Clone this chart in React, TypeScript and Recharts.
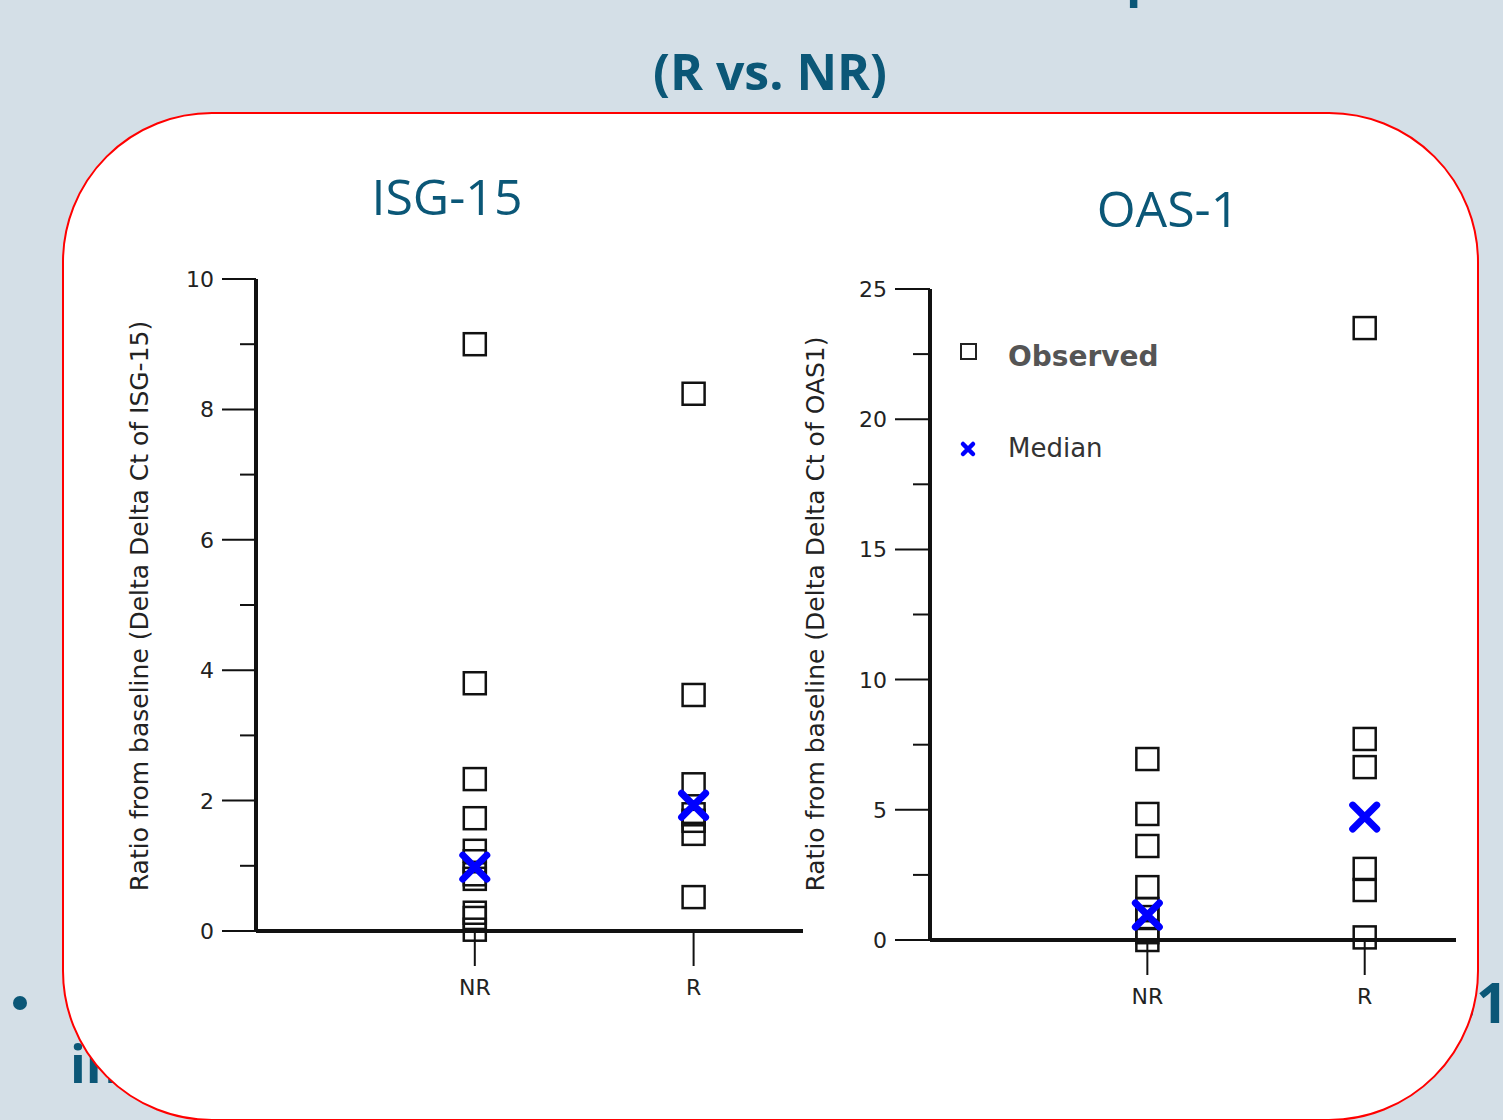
import React from 'react';
import { ScatterChart, Scatter, XAxis, YAxis } from 'recharts';

// groups on the x axis (numeric positions 1 and 2)
const groups = ['NR', 'R'];

// ISG-15 ratio from baseline
const isgNR = [9.0, 3.8, 2.33, 1.73, 1.23, 1.07, 0.87, 0.8, 0.28, 0.2, 0.02];
const isgR = [8.24, 3.62, 2.25, 1.79, 1.69, 1.49, 0.52];
const isgMedian = [0.98, 1.93];
const isgTicks = [0, 1, 2, 3, 4, 5, 6, 7, 8, 9, 10];

// OAS-1 ratio from baseline
const oasNR = [6.95, 4.84, 3.61, 2.03, 1.19, 0.88, 0.3, 0.0];
const oasR = [23.5, 7.72, 6.64, 2.73, 1.92, 0.1];
const oasMedian = [0.96, 4.72];
const oasTicks = [0, 2.5, 5, 7.5, 10, 12.5, 15, 17.5, 20, 22.5, 25];

const TEAL = '#0b5777';
const AXIS_FONT = '"DejaVu Sans", Verdana, sans-serif';
const SLIDE_FONT = '"Open Sans", sans-serif';

const toPoints = (vals: number[], x: number) => vals.map(v => ({ x, y: v }));
const medianPoints = (vals: number[]) => vals.map((v, i) => ({ x: i + 1, y: v }));

const SquareDot = (props: any) => {
  const { cx, cy } = props;
  if (cx == null || cy == null) return <g />;
  return <rect x={cx - 11} y={cy - 11} width={22} height={22} fill="none" stroke="#111" strokeWidth={2.5} />;
};

const CrossDot = (props: any) => {
  const { cx, cy } = props;
  if (cx == null || cy == null) return <g />;
  const s = 12;
  return (
    <path
      d={`M${cx - s},${cy - s}L${cx + s},${cy + s}M${cx + s},${cy - s}L${cx - s},${cy + s}`}
      stroke="#0000ff"
      strokeWidth={7}
      strokeLinecap="round"
    />
  );
};

const makeYTick = (step: number, majorLen: number, minorLen: number) => (props: any) => {
  const { x, y, payload } = props;
  const v = payload.value;
  const major = Math.abs(v / step - Math.round(v / step)) < 1e-6;
  const len = major ? majorLen : minorLen;
  return (
    <g>
      <line x1={x - len} x2={x} y1={y} y2={y} stroke="#111" strokeWidth={2} />
      {major && (
        <text x={x - majorLen - 8} y={y} dy="0.36em" textAnchor="end" fontSize={22} fill="#222" fontFamily={AXIS_FONT}>
          {v}
        </text>
      )}
    </g>
  );
};

const XTick = (props: any) => {
  const { x, y, payload } = props;
  return (
    <g>
      <line x1={x} x2={x} y1={y} y2={y + 35} stroke="#111" strokeWidth={2} />
      <text x={x} y={y + 64} textAnchor="middle" fontSize={22} fill="#222" fontFamily={AXIS_FONT}>
        {groups[payload.value - 1]}
      </text>
    </g>
  );
};

const axisLine = { stroke: '#111', strokeWidth: 4 };

const VerticalTitle = ({ cx, cy, text }: { cx: number; cy: number; text: string }) => (
  <text
    x={cx}
    y={cy}
    transform={`rotate(-90 ${cx} ${cy})`}
    textAnchor="middle"
    dominantBaseline="central"
    fontSize={25}
    fill="#222"
    fontFamily={AXIS_FONT}
  >
    {text}
  </text>
);

export default function App() {
  return (
    <div
      style={{
        position: 'absolute',
        left: 0,
        top: 0,
        width: 1503,
        height: 1120,
        overflow: 'hidden',
        background: '#d4dfe7',
      }}
    >
      {/* slide text behind the box */}
      <svg width={1503} height={1120} style={{ position: 'absolute', left: 0, top: 0 }}>
        <text x={1126} y={-4} fontSize={50} fontWeight="bold" fill={TEAL} fontFamily={SLIDE_FONT}>
          p
        </text>
        <text x={770} y={90} textAnchor="middle" fontSize={50} fontWeight="bold" fill={TEAL} fontFamily={SLIDE_FONT}>
          (R vs. NR)
        </text>
        <circle cx={20} cy={1003} r={7} fill={TEAL} />
        <text x={70} y={1083} fontSize={52} fontWeight="bold" fill={TEAL} fontFamily={SLIDE_FONT}>
          in
        </text>
        <text x={1444} y={1023} fontSize={56} fontWeight="bold" fill={TEAL} fontFamily={SLIDE_FONT}>
          51
        </text>
      </svg>

      <div
        style={{
          position: 'absolute',
          left: 62,
          top: 112,
          width: 1417,
          height: 1009,
          boxSizing: 'border-box',
          border: '2.5px solid #ff0000',
          borderRadius: 150,
          background: '#fff',
        }}
      />

      <div style={{ position: 'absolute', left: 100, top: 250 }}>
        <ScatterChart width={720} height={751} margin={{ top: 29, right: 17, left: 0, bottom: 0 }}>
          <XAxis
            type="number"
            dataKey="x"
            domain={[0, 2.5]}
            ticks={[1, 2]}
            tick={<XTick />}
            tickLine={false}
            tickSize={0}
            tickMargin={0}
            axisLine={axisLine}
            height={70}
          />
          <YAxis
            type="number"
            dataKey="y"
            domain={[0, 10]}
            ticks={isgTicks}
            interval={0}
            tick={makeYTick(2, 34, 16)}
            tickLine={false}
            tickSize={0}
            tickMargin={0}
            axisLine={axisLine}
            width={156}
          />
          <Scatter data={toPoints(isgNR, 1)} shape={SquareDot} isAnimationActive={false} />
          <Scatter data={toPoints(isgR, 2)} shape={SquareDot} isAnimationActive={false} />
          <Scatter data={medianPoints(isgMedian)} shape={CrossDot} isAnimationActive={false} />
        </ScatterChart>
      </div>

      <div style={{ position: 'absolute', left: 790, top: 260 }}>
        <ScatterChart width={676} height={750} margin={{ top: 29, right: 10, left: 0, bottom: 0 }}>
          <XAxis
            type="number"
            dataKey="x"
            domain={[0, 2.42]}
            ticks={[1, 2]}
            tick={<XTick />}
            tickLine={false}
            tickSize={0}
            tickMargin={0}
            axisLine={axisLine}
            height={70}
          />
          <YAxis
            type="number"
            dataKey="y"
            domain={[0, 25]}
            ticks={oasTicks}
            interval={0}
            tick={makeYTick(5, 35, 17)}
            tickLine={false}
            tickSize={0}
            tickMargin={0}
            axisLine={axisLine}
            width={140}
          />
          <Scatter data={toPoints(oasNR, 1)} shape={SquareDot} isAnimationActive={false} />
          <Scatter data={toPoints(oasR, 2)} shape={SquareDot} isAnimationActive={false} />
          <Scatter data={medianPoints(oasMedian)} shape={CrossDot} isAnimationActive={false} />
        </ScatterChart>
      </div>

      {/* panel titles, axis titles and legend */}
      <svg width={1503} height={1120} style={{ position: 'absolute', left: 0, top: 0, pointerEvents: 'none' }}>
        <text x={447} y={215} textAnchor="middle" fontSize={50} fill={TEAL} fontFamily={SLIDE_FONT}>
          ISG-15
        </text>
        <text x={1168} y={227} textAnchor="middle" fontSize={50} fill={TEAL} fontFamily={SLIDE_FONT}>
          OAS-1
        </text>
        <VerticalTitle cx={139} cy={606} text="Ratio from baseline (Delta Delta Ct of ISG-15)" />
        <VerticalTitle cx={815} cy={614} text="Ratio from baseline (Delta Delta Ct of OAS1)" />
        <g>
          <rect x={961} y={344} width={15} height={15} fill="none" stroke="#222" strokeWidth={2} />
          <text x={1008} y={366} fontSize={28} fontWeight="bold" fill="#555" fontFamily={AXIS_FONT}>
            Observed
          </text>
          <path d="M963,444L973,454M973,444L963,454" stroke="#0000ff" strokeWidth={4.5} strokeLinecap="round" />
          <text x={1008} y={457} fontSize={26} fill="#333" fontFamily={AXIS_FONT}>
            Median
          </text>
        </g>
      </svg>
    </div>
  );
}
